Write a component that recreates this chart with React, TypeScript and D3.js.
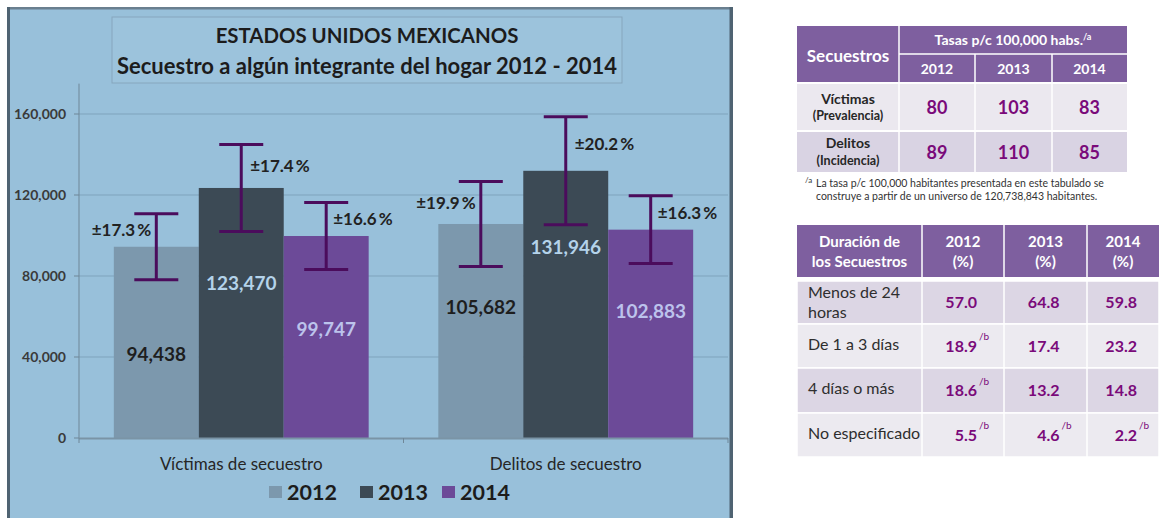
import React from 'react';
import * as d3 from 'd3';

// ---------- data ----------
const categories = ['Víctimas de secuestro', 'Delitos de secuestro'];
const years = ['2012', '2013', '2014'];
const values2012 = [94438, 105682];
const values2013 = [123470, 131946];
const values2014 = [99747, 102883];
const errorPct2012 = [17.3, 19.9];
const errorPct2013 = [17.4, 20.2];
const errorPct2014 = [16.6, 16.3];
const yTicks = [0, 40000, 80000, 120000, 160000];

const tasaYears = ['2012', '2013', '2014'];
const tasaRows = ['Víctimas', 'Delitos'];
const tasaRowSub = ['(Prevalencia)', '(Incidencia)'];
const tasaVictimas = [80, 103, 83];
const tasaDelitos = [89, 110, 85];

const duracionRows = [['Menos de 24', 'horas'], ['De 1 a 3 días'], ['4 días o más'], ['No especificado']];
const duracion2012 = ['57.0', '18.9', '18.6', '5.5'];
const duracion2013 = ['64.8', '17.4', '13.2', '4.6'];
const duracion2014 = ['59.8', '23.2', '14.8', '2.2'];
const notaB2012 = [false, true, true, true];
const notaB2013 = [false, false, false, true];
const notaB2014 = [false, false, false, true];

// ---------- layout / style ----------
const FONT = 'Lato, "Open Sans", sans-serif';
const barColors = ['#7c98ad', '#3c4a55', '#6c4a98'];
const valueColors = ['#1e1e1e', '#b4d3ea', '#bcc3ec'];
const errColor = '#4b0c5c';
const purpleHead = '#7e5f9f';
const purpleVal = '#7a0a7a';
// where each value label sits inside its bar (fraction of bar height)
const labelFrac = [[0.44, 0.62, 0.54], [0.61, 0.715, 0.61]];

const seriesValues = [values2012, values2013, values2014];
const seriesErr = [errorPct2012, errorPct2013, errorPct2014];

export default function App() {
  const y = d3.scaleLinear().domain([0, 160000]).range([438, 114]);
  const yTop = y(175000);
  const x0 = d3.scaleBand<string>().domain(categories).range([79, 728]);
  const x1 = d3.scaleBand<string>().domain(years).range([0, x0.bandwidth()]).paddingOuter(0.41).paddingInner(0);
  const bw = x1.bandwidth();
  const fmt = d3.format(',');

  const bars: any[] = [];
  categories.forEach((c, ci) => {
    years.forEach((yr, si) => {
      const v = seriesValues[si][ci];
      const pct = seriesErr[si][ci];
      const bx = (x0(c) as number) + (x1(yr) as number);
      const cx = bx + bw / 2;
      const hi = v * (1 + pct / 100);
      const lo = v * (1 - pct / 100);
      bars.push({ c, ci, yr, si, v, pct, bx, cx, hi, lo });
    });
  });

  // tables
  const t1x = [797, 899, 975, 1052, 1127];
  const t1y = [26, 54, 83, 131, 172];
  const t2x = [797, 922, 1004, 1087, 1159];
  const t2head = [225, 277];
  const t2rows = [281, 324, 368, 413, 457];
  const duracionCols = [duracion2012, duracion2013, duracion2014];
  const notaCols = [notaB2012, notaB2013, notaB2014];
  const tasaVals = [tasaVictimas, tasaDelitos];

  return (
    <svg width={1159} height={518} style={{ position: 'absolute', left: 0, top: 0, fontFamily: FONT }}>
      <rect x={0} y={0} width={1159} height={518} fill="#ffffff" />
      {/* chart panel */}
      <rect x={7} y={7} width={726} height={520} fill="#98c0da" />
      <rect x={7} y={7} width={726} height={2.5} fill="#6a7f8f" />
      <rect x={7} y={7} width={3} height={520} fill="#4f6372" />
      <rect x={729.5} y={7} width={3.5} height={520} fill="#4f6372" />

      {/* title box */}
      <rect x={112} y={17} width={510} height={66} fill="#9cc3dc" stroke="#86a6bd" strokeWidth={1} />
      <text x={367} y={43} textAnchor="middle" fontSize={20.4} fontWeight={700} fill="#1c1c1c">ESTADOS UNIDOS MEXICANOS</text>
      <text x={367} y={74} textAnchor="middle" fontSize={22} fontWeight={700} fill="#1c1c1c">Secuestro a algún integrante del hogar 2012 - 2014</text>

      {/* gridlines */}
      {yTicks.filter(t => t > 0).map(t => (
        <line key={'g' + t} x1={79} x2={728} y1={y(t)} y2={y(t)} stroke="#7ea3bc" strokeWidth={1} />
      ))}
      {/* y axis */}
      <line x1={79} x2={79} y1={yTop} y2={y(0)} stroke="#6f8798" strokeWidth={1} />
      {yTicks.map(t => (
        <g key={'t' + t}>
          <line x1={74} x2={79} y1={y(t)} y2={y(t)} stroke="#6f8798" strokeWidth={1} />
          <text x={66} y={y(t)} dy="0.35em" textAnchor="end" fontSize={14} fontWeight={700} fill="#3a3a3a">{fmt(t)}</text>
        </g>
      ))}

      {/* bars */}
      {bars.map(b => (
        <rect key={'b' + b.ci + b.si} x={b.bx} y={y(b.v)} width={bw} height={y(0) - y(b.v)} fill={barColors[b.si]} />
      ))}

      {/* x axis */}
      <line x1={79} x2={728} y1={y(0) + 0.5} y2={y(0) + 0.5} stroke="#7a94a6" strokeWidth={2} />
      {[79, ...categories.map(c => (x0(c) as number) + x0.bandwidth())].map((tx, i) => (
        <line key={'xt' + i} x1={tx} x2={tx} y1={y(0)} y2={y(0) + 5} stroke="#6f8798" strokeWidth={1} />
      ))}
      {categories.map(c => (
        <text key={'c' + c} x={(x0(c) as number) + x0.bandwidth() / 2} y={470} textAnchor="middle" fontSize={17} fill="#262626">{c}</text>
      ))}

      {/* value labels */}
      {bars.map(b => (
        <text key={'v' + b.ci + b.si} x={b.cx} y={y(b.v * labelFrac[b.ci][b.si])} dy="0.35em" textAnchor="middle"
          fontSize={19} fontWeight={700} fill={valueColors[b.si]}>{fmt(b.v)}</text>
      ))}

      {/* error bars */}
      {bars.map(b => (
        <g key={'e' + b.ci + b.si} stroke={errColor} strokeWidth={3}>
          <line x1={b.cx} x2={b.cx} y1={y(b.hi)} y2={y(b.lo)} />
          <line x1={b.cx - 22} x2={b.cx + 22} y1={y(b.hi)} y2={y(b.hi)} />
          <line x1={b.cx - 22} x2={b.cx + 22} y1={y(b.lo)} y2={y(b.lo)} />
        </g>
      ))}
      {/* error labels */}
      {bars.map(b => {
        const ly = (y(b.v) + y(b.hi)) / 2;
        const left = b.si === 0;
        const lx = left ? b.cx - 5 : b.cx + (b.si === 1 ? 9 : 7);
        return (
          <text key={'p' + b.ci + b.si} x={lx} y={ly} dy="0.35em" textAnchor={left ? 'end' : 'start'}
            fontSize={17} fontWeight={700} fill="#222">{'±' + b.pct.toFixed(1) + '\u2009%'}</text>
        );
      })}

      {/* legend */}
      {years.map((yr, i) => {
        const lx = [269, 360, 442][i];
        return (
          <g key={'l' + yr}>
            <rect x={lx} y={486} width={13} height={12} fill={barColors[i]} />
            <text x={lx + 18} y={500} fontSize={21.5} fontWeight={700} fill="#1c1c1c">{yr}</text>
          </g>
        );
      })}

      {/* ---------- table 1 ---------- */}
      <rect x={t1x[0]} y={t1y[0]} width={t1x[4] - t1x[0]} height={t1y[2] - t1y[0]} fill={purpleHead} />
      <rect x={t1x[0]} y={t1y[2]} width={t1x[4] - t1x[0]} height={t1y[3] - t1y[2]} fill="#ebe8ef" />
      <rect x={t1x[0]} y={t1y[3]} width={t1x[4] - t1x[0]} height={t1y[4] - t1y[3]} fill="#d9d3e3" />
      <line x1={t1x[1]} x2={t1x[1]} y1={t1y[0]} y2={t1y[4]} stroke="#fff" strokeWidth={1.5} />
      <line x1={t1x[2]} x2={t1x[2]} y1={t1y[1]} y2={t1y[4]} stroke="#fff" strokeWidth={1.5} />
      <line x1={t1x[3]} x2={t1x[3]} y1={t1y[1]} y2={t1y[4]} stroke="#fff" strokeWidth={1.5} />
      <line x1={t1x[1]} x2={t1x[4]} y1={t1y[1]} y2={t1y[1]} stroke="#fff" strokeWidth={1.5} />
      <line x1={t1x[0]} x2={t1x[4]} y1={t1y[2]} y2={t1y[2]} stroke="#fff" strokeWidth={2} />
      <line x1={t1x[0]} x2={t1x[4]} y1={t1y[3]} y2={t1y[3]} stroke="#fff" strokeWidth={2} />
      <text x={(t1x[0] + t1x[1]) / 2} y={56} dy="0.35em" textAnchor="middle" fontSize={17} fontWeight={700} fill="#fff">Secuestros</text>
      <text x={(t1x[1] + t1x[4]) / 2} y={40} dy="0.35em" textAnchor="middle" fontSize={14} fontWeight={700} fill="#fff">
        Tasas p/c 100,000 habs.<tspan fontSize={9} dy="-5">/a</tspan>
      </text>
      {tasaYears.map((yr, i) => (
        <text key={'ty' + yr} x={(t1x[i + 1] + t1x[i + 2]) / 2} y={69} dy="0.35em" textAnchor="middle" fontSize={14} fontWeight={700} fill="#fff">{yr}</text>
      ))}
      {tasaRows.map((r, ri) => {
        const top = t1y[ri + 2];
        const bot = t1y[ri + 3];
        const mid = (top + bot) / 2;
        return (
          <g key={'tr' + r}>
            <text x={(t1x[0] + t1x[1]) / 2} y={mid - 8} dy="0.35em" textAnchor="middle" fontSize={14} fontWeight={700} fill="#262626">{r}</text>
            <text x={(t1x[0] + t1x[1]) / 2} y={mid + 9} dy="0.35em" textAnchor="middle" fontSize={12.5} fontWeight={700} fill="#262626">{tasaRowSub[ri]}</text>
            {tasaVals[ri].map((v, vi) => (
              <text key={'tv' + vi} x={(t1x[vi + 1] + t1x[vi + 2]) / 2} y={mid + 1} dy="0.35em" textAnchor="middle" fontSize={18} fontWeight={700} fill={purpleVal}>{v}</text>
            ))}
          </g>
        );
      })}
      <text x={805} y={183} fontSize={8} fill="#333">/a</text>
      <text x={816} y={187} fontSize={10.5} fill="#333">La tasa p/c 100,000 habitantes presentada en este tabulado se</text>
      <text x={816} y={200} fontSize={10.5} fill="#333">construye a partir de un universo de 120,738,843 habitantes.</text>

      {/* ---------- table 2 ---------- */}
      <rect x={t2x[0]} y={t2head[0]} width={t2x[4] - t2x[0]} height={t2head[1] - t2head[0]} fill={purpleHead} />
      {duracionRows.map((r, ri) => (
        <rect key={'r2' + ri} x={t2x[0]} y={t2rows[ri]} width={t2x[4] - t2x[0]} height={t2rows[ri + 1] - t2rows[ri]}
          fill={ri % 2 === 0 ? '#dcd6e4' : '#eceaf0'} stroke="#fff" strokeWidth={1.5} />
      ))}
      {[1, 2, 3].map(i => (
        <line key={'v2' + i} x1={t2x[i]} x2={t2x[i]} y1={t2head[0]} y2={t2rows[4]} stroke="#fff" strokeWidth={1.5} />
      ))}
      <text x={(t2x[0] + t2x[1]) / 2} y={242} dy="0.35em" textAnchor="middle" fontSize={15} fontWeight={700} fill="#fff">Duración de</text>
      <text x={(t2x[0] + t2x[1]) / 2} y={262} dy="0.35em" textAnchor="middle" fontSize={15} fontWeight={700} fill="#fff">los Secuestros</text>
      {years.map((yr, i) => (
        <g key={'h2' + yr}>
          <text x={(t2x[i + 1] + t2x[i + 2]) / 2} y={242} dy="0.35em" textAnchor="middle" fontSize={15} fontWeight={700} fill="#fff">{yr}</text>
          <text x={(t2x[i + 1] + t2x[i + 2]) / 2} y={262} dy="0.35em" textAnchor="middle" fontSize={15} fontWeight={700} fill="#fff">(%)</text>
        </g>
      ))}
      {duracionRows.map((lines, ri) => {
        const mid = (t2rows[ri] + t2rows[ri + 1]) / 2;
        return (
          <g key={'d' + ri}>
            {lines.map((ln, li) => (
              <text key={'dl' + li} x={808} y={mid + (li - (lines.length - 1) / 2) * 20 + (lines.length > 1 ? 0 : -2)} dy="0.35em" fontSize={16} fill="#2e2e2e">{ln}</text>
            ))}
            {duracionCols.map((col, ci) => {
              const cx = (t2x[ci + 1] + t2x[ci + 2]) / 2;
              return (
                <g key={'dv' + ci}>
                  <text x={cx + 14} y={mid} dy="0.35em" textAnchor="end" fontSize={16} fontWeight={700} fill={purpleVal}>{col[ri]}</text>
                  {notaCols[ci][ri] ? (
                    <text x={cx + 16} y={mid - 6} fontSize={10} fill={purpleVal}>/b</text>
                  ) : null}
                </g>
              );
            })}
          </g>
        );
      })}
    </svg>
  );
}
